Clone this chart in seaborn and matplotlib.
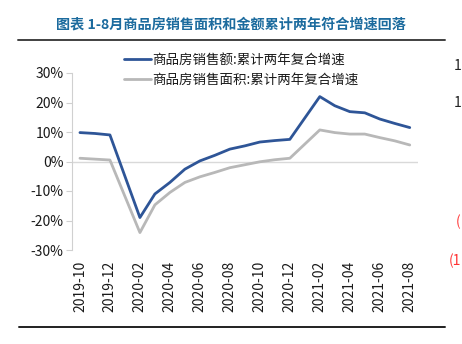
import numpy as np
import pandas as pd
import matplotlib
matplotlib.use("Agg")
import matplotlib.pyplot as plt
from matplotlib.lines import Line2D
import seaborn as sns

# ---- data ----
months = ["2019-10", "2019-11", "2019-12", "2020-02", "2020-03", "2020-04", "2020-05",
          "2020-06", "2020-07", "2020-08", "2020-09", "2020-10", "2020-11", "2020-12",
          "2021-02", "2021-03", "2021-04", "2021-05", "2021-06", "2021-07", "2021-08"]
amount_growth = [9.8, 9.5, 9.0, -19.0, -11.0, -7.1, -2.6, 0.2, 2.1, 4.2, 5.3, 6.6, 7.1, 7.5,
                 22.0, 18.9, 16.9, 16.5, 14.4, 12.9, 11.5]
area_growth = [1.1, 0.8, 0.5, -24.1, -14.7, -10.5, -7.1, -5.2, -3.7, -2.1, -1.1, -0.1, 0.6, 1.1,
               10.7, 9.8, 9.3, 9.3, 8.1, 7.0, 5.6]
series_names = ["商品房销售额:累计两年复合增速", "商品房销售面积:累计两年复合增速"]
tick_labels = ["2019-10", "2019-12", "2020-02", "2020-04", "2020-06", "2020-08", "2020-10",
               "2020-12", "2021-02", "2021-04", "2021-06", "2021-08"]
y_ticks = [30, 20, 10, 0, -10, -20, -30]
title = "图表 1-8月商品房销售面积和金额累计两年符合增速回落"

def month_index(m):
    y, mo = m.split("-")
    return (int(y) - 2019) * 12 + int(mo) - 10

idx = [month_index(m) for m in months]
df = pd.concat([
    pd.DataFrame({"x": idx, "v": amount_growth, "s": series_names[0]}),
    pd.DataFrame({"x": idx, "v": area_growth, "s": series_names[1]}),
])

sns.set_theme(style="white")
plt.rcParams["font.family"] = ["Noto Sans CJK SC", "DejaVu Sans"]

W, H = 462, 344
fig = plt.figure(figsize=(W / 100, H / 100), dpi=100)
ax = fig.add_axes([72 / W, 1 - 250 / H, (418 - 72) / W, (250 - 73) / H])

blue = "#2E5597"
gray = "#B8B8B8"
sns.lineplot(data=df, x="x", y="v", hue="s", palette=[blue, gray], linewidth=2.0,
             ax=ax, legend=False, sort=True)

ax.axhline(0, color="#D9D9D9", linewidth=1.0, zorder=0)
ax.set_ylim(-30, 30)
ax.set_xlim(-0.53, 22.55)
ax.set_yticks(y_ticks)
ax.set_yticklabels([f"{t}%" for t in y_ticks], fontsize=10, color="#1A1A1A")
ax.set_xticks([month_index(t) for t in tick_labels])
ax.set_xticklabels(tick_labels, rotation=90, fontsize=10, color="#1A1A1A")
ax.tick_params(axis="y", length=4, width=0.8, color="#D0D0D0", pad=2, left=True)
ax.tick_params(axis="x", length=0, pad=8)
ax.set_xlabel("")
ax.set_ylabel("")
for s in ["top", "right", "bottom"]:
    ax.spines[s].set_visible(False)
ax.spines["left"].set_color("#D0D0D0")
ax.spines["left"].set_linewidth(0.8)
ax.grid(False)

handles = [Line2D([], [], color=blue, linewidth=2.0), Line2D([], [], color=gray, linewidth=2.0)]
fig.legend(handles, series_names, loc="upper left", bbox_to_anchor=(124 / W, 1 - 53 / H),
           frameon=False, fontsize=9.7, handlelength=2.0, handletextpad=0.1,
           labelspacing=0.45, borderpad=0, borderaxespad=0, labelcolor="#1A1A1A")

fig.text(231 / W, 1 - 24 / H, title, ha="center", va="center", fontsize=10.2,
         fontweight="bold", color="#1C6B9E")
fig.add_artist(Line2D([18 / W, 445 / W], [1 - 40 / H, 1 - 40 / H], color="#404040", linewidth=1.4))
fig.add_artist(Line2D([19 / W, 445 / W], [1 - 327 / H, 1 - 327 / H], color="#202020", linewidth=1.4))

# fragments from the neighbouring chart at the right edge
fig.text(454 / W, 1 - 66 / H, "1", fontsize=10, color="#222222", va="center", ha="left")
fig.text(454 / W, 1 - 103 / H, "1", fontsize=10, color="#222222", va="center", ha="left")
fig.text(456 / W, 1 - 222 / H, "(", fontsize=10, color="#FF3333", va="center", ha="left")
fig.text(449 / W, 1 - 261 / H, "(1", fontsize=10, color="#FF3333", va="center", ha="left")

fig.savefig("out.png", dpi=100)
